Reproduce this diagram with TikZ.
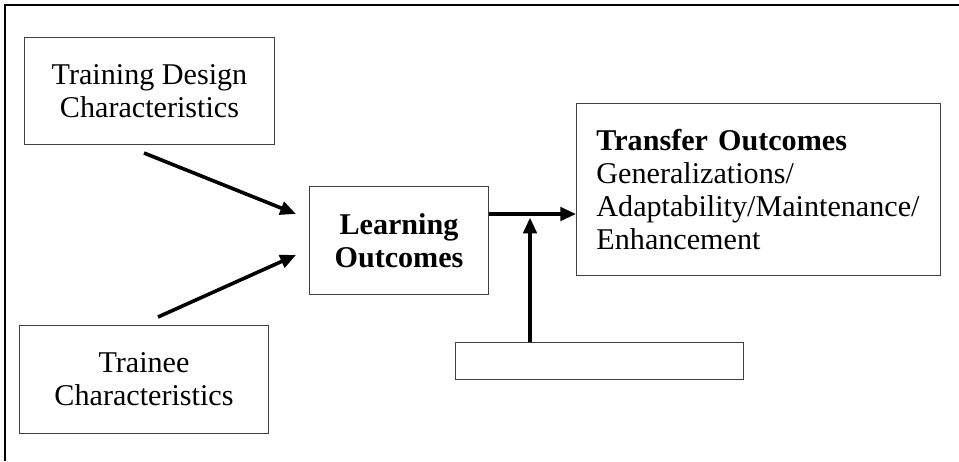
\documentclass[tikz,border=0pt]{standalone}
\usepackage{fontspec}
\setmainfont{Liberation Serif}
\usepackage{tikz}
\usetikzlibrary{arrows.meta}
\usetikzlibrary{positioning}

\tikzset{
  box/.style={draw=black!75, line width=0.45pt, inner sep=0pt, align=center,
              font=\fontsize{12.6}{13.8}\selectfont},
  flow/.style={line width=1.5pt, -{Triangle[length=6.6pt,width=5.6pt]}}
}

\begin{document}
\begin{tikzpicture}[x=0.0147cm, y=-0.0147cm]
          \useasboundingbox (0,0) rectangle (959,461);
          \draw[line width=1.1pt] (5,461) -- (5,5) -- (959,5); % outer frame, cut at right and bottom

          \node[box, minimum width=104.6pt, minimum height=45pt] (design) at (149.5,91) {Training Design\\Characteristics};
          \node[box, minimum width=104.2pt, minimum height=45.4pt] (trainee) at (144,379.5) {Trainee\\Characteristics};
          \node[box, minimum width=75pt, minimum height=45.4pt, font=\fontsize{12.6}{13.8}\selectfont\bfseries] (learning) at (399,240.5) {Learning\\Outcomes};
          \node[box, minimum height=72.1pt, text width=135.5pt, inner xsep=8.3pt, align=left] (transfer) at (758.5,189.5)
               {\textbf{Transfer Outcomes}\\Generalizations/\\Adaptability/Maintenance/\\Enhancement};
          \node[box, minimum width=120.4pt, minimum height=15.8pt] (context) at (599.5,361) {};

          \coordinate (s1) at (144,153);
          \coordinate (e1) at (296,214);
          \coordinate (s2) at (158,317);
          \coordinate (e2) at (296,255);
          \coordinate (join) at (530,214);

          \draw[flow] (s1) -- (e1);
          \draw[flow] (s2) -- (e2);
          \draw[flow] (learning.east |- join) -- (transfer.west |- join);
          \draw[flow, shorten >=1.5pt] (context.north -| join) -- (join);
        \end{tikzpicture}
\end{document}
